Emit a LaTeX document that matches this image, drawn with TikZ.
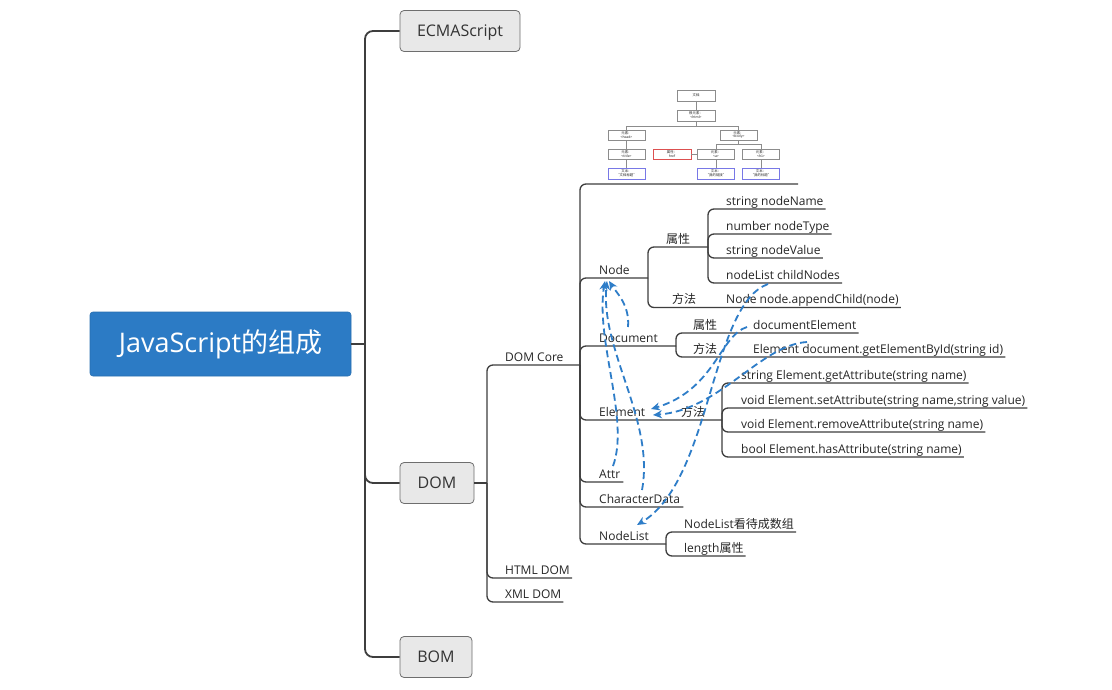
\documentclass[tikz,border=0pt]{standalone}
\usepackage{fontspec}
\setmainfont{Open Sans}
\newfontfamily\cjk{Noto Sans CJK SC}
\usetikzlibrary{arrows.meta}
\definecolor{rootblue}{RGB}{44,123,197}
\definecolor{boxfill}{RGB}{232,232,232}
\definecolor{boxdraw}{RGB}{110,110,110}
\definecolor{linec}{RGB}{62,62,62}
\definecolor{dashblue}{RGB}{46,125,200}
\definecolor{thred}{RGB}{220,80,80}
\definecolor{thblue}{RGB}{120,120,230}
\begin{document}
\begin{tikzpicture}[x=1pt,y=-1pt,
  rootbox/.style={rounded corners=3pt, fill=rootblue, draw=rootblue!90!black, line width=0.6pt, minimum width=261pt, minimum height=64pt, text=white, font=\fontsize{27}{30}\selectfont},
  topbox/.style={rounded corners=4pt, fill=boxfill, draw=boxdraw, line width=0.8pt, minimum height=41pt, text height=11.5pt, text depth=0pt, font=\fontsize{16}{19}\selectfont, text=black!80},
  trunk/.style={draw=linec, line width=1.8pt, rounded corners=8pt},
  ul/.style={draw=linec, line width=1.3pt, rounded corners=6pt},
  lbl/.style={anchor=base west, inner sep=0pt, font=\fontsize{12}{14}\selectfont, text=black!85},
  dep/.style={draw=dashblue, line width=1.8pt, dash pattern=on 7pt off 4pt, -{Stealth[length=9pt,width=8pt]}},
  tb/.style={draw=black!45, line width=0.4pt, fill=white, inner sep=0pt, minimum width=37pt, minimum height=10.5pt, font=\cjk\fontsize{3.4}{3.9}\selectfont, align=center, text=black!85},
  tl/.style={draw=black!45, line width=0.4pt}
]
\useasboundingbox (0,0) rectangle (1112,689);
\fill[white] (0,0) rectangle (1112,689);

% root and top level
\node[rootbox] (root) at (220.5,344) {JavaScript{\cjk 的组成}};
\node[topbox, minimum width=120pt] (ecma) at (460,31) {ECMAScript};
\node[topbox, minimum width=74pt] (dom) at (437,483) {DOM};
\node[topbox, minimum width=72pt] (bom) at (436,657) {BOM};
\coordinate (tj) at (365,344);
\draw[trunk] (root.east) -- (tj);
\draw[trunk] (tj) |- (ecma.west);
\draw[trunk] (tj) |- (dom.west);
\draw[trunk] (tj) |- (bom.west);

% DOM level
\coordinate (dj) at (487,483);
\draw[ul] (dom.east) -- (dj);
\node[lbl] (domcore) at (505,361) {DOM Core};
\node[lbl] (html) at (505,574) {HTML DOM};
\node[lbl] (xml) at (505,598) {XML DOM};
\coordinate (dcj) at (580,365);
\draw[ul] (dj) |- (dcj);
\draw[ul] (dj) |- ([shift={(2pt,-4pt)}]html.base east);
\draw[ul] (dj) |- ([shift={(2pt,-4pt)}]xml.base east);

% DOM Core children
\coordinate (imgend) at (798,184);
\draw[ul] (dcj) |- (imgend);
\node[lbl] (nnode) at (599,274) {Node};
\coordinate (nj) at (648,278);
\draw[ul] (dcj) |- (nj);
\node[lbl] (doc) at (599,342) {Document};
\coordinate (docj) at (676,346);
\draw[ul] (dcj) |- (docj);
\node[lbl] (elem) at (599,416) {Element};
\node[lbl] (emeth) at (681,416) {\cjk 方法};
\coordinate (elj) at (722,420);
\draw[ul] (dcj) |- (elj);
\node[lbl] (attr) at (599,478) {Attr};
\draw[ul] (dcj) |- ([shift={(3pt,-4pt)}]attr.base east);
\node[lbl] (chard) at (599,503) {CharacterData};
\draw[ul] (dcj) |- ([shift={(3pt,-4pt)}]chard.base east);
\node[lbl] (nlist) at (599,540) {NodeList};
\coordinate (nlj) at (666,544);
\draw[ul] (dcj) |- (nlj);

% Node children
\node[lbl] (nattr) at (666,243) {\cjk 属性};
\coordinate (naj) at (708,247);
\draw[ul] (nj) |- (naj);
\node[lbl] (nmeth) at (672,303.5) {\cjk 方法};
\node[lbl] (nappend) at (726,303.5) {Node node.appendChild(node)};
\draw[ul] (nj) |- ([shift={(2pt,-4pt)}]nappend.base east);
\node[lbl] (s1) at (726,205) {string nodeName};
\node[lbl] (s2) at (726,230) {number nodeType};
\node[lbl] (s3) at (726,254) {string nodeValue};
\node[lbl] (s4) at (726,279) {nodeList childNodes};
\foreach \n in {s1,s2,s3,s4}{\draw[ul] (naj) |- ([shift={(2pt,-4pt)}]\n.base east);}

% Document children
\node[lbl] (dattr) at (693,329) {\cjk 属性};
\node[lbl] (delem) at (753,329) {documentElement};
\draw[ul] (docj) |- ([shift={(2pt,-4pt)}]delem.base east);
\node[lbl] (dmeth) at (693,353) {\cjk 方法};
\node[lbl] (dget) at (753,353) {Element document.getElementById(string id)};
\draw[ul] (docj) |- ([shift={(2pt,-4pt)}]dget.base east);

% Element children
\node[lbl] (e1) at (741,379) {string Element.getAttribute(string name)};
\node[lbl] (e2) at (741,404) {void Element.setAttribute(string name,string value)};
\node[lbl] (e3) at (741,428) {void Element.removeAttribute(string name)};
\node[lbl] (e4) at (741,453) {bool Element.hasAttribute(string name)};
\foreach \n in {e1,e2,e3,e4}{\draw[ul] (elj) |- ([shift={(2pt,-4pt)}]\n.base east);}

% NodeList children
\node[lbl] (l1) at (684,528) {NodeList{\cjk 看待成数组}};
\node[lbl] (l2) at (684,552) {length{\cjk 属性}};
\foreach \n in {l1,l2}{\draw[ul] (nlj) |- ([shift={(2pt,-4pt)}]\n.base east);}

% thumbnail tree
\node[tb, minimum width=38pt] (t0) at (696,95.5) {文档};
\node[tb, minimum width=38pt] (t1) at (696,115.5) {根元素：\\<html>};
\node[tb] (t2) at (626.5,135) {元素：\\<head>};
\node[tb] (t3) at (738.5,135) {元素：\\<body>};
\node[tb] (t4) at (626.5,154) {元素：\\<title>};
\node[tb, draw=thred, minimum width=38pt] (t5) at (672,154) {属性：\\href};
\node[tb] (t6) at (716,154) {元素：\\<a>};
\node[tb] (t7) at (761,154) {元素：\\<h1>};
\node[tb, draw=thblue] (t8) at (626.5,173.5) {文本：\\“文档标题”};
\node[tb, draw=thblue] (t9) at (716,173.5) {文本：\\“我的链接”};
\node[tb, draw=thblue] (t10) at (761,173.5) {文本：\\“我的标题”};
\draw[tl] (t0) -- (t1);
\draw[tl] (t1.south) -- (696,126);
\draw[tl] (t2.north) |- (738.5,126) -- (t3.north);
\draw[tl] (t2) -- (t4);
\draw[tl] (t4) -- (t8);
\draw[tl] (t3.south) -- (738.5,144.5);
\draw[tl] (t6.north) |- (761,144.5) -- (t7.north);
\draw[tl] (t5) -- (t6);
\draw[tl] (t6) -- (t9);
\draw[tl] (t7) -- (t10);

% dashed dependency arrows
\coordinate (docS) at (628,327);
\coordinate (attrS) at (613,466);
\coordinate (chS) at (642,490);
\coordinate (nodeT1) at (609,281);
\coordinate (nodeT2) at (605,281);
\coordinate (nodeT3) at (607,281);
\draw[dep] (docS) .. controls (630,305) and (616,292) .. (nodeT1);
\draw[dep] (attrS) .. controls (630,420) and (595,340) .. (nodeT2);
\draw[dep] (chS) .. controls (655,420) and (600,350) .. (nodeT3);
\coordinate (deS) at (747,327);
\coordinate (geS) at (807,342);
\coordinate (elT1) at (651,409);
\coordinate (elT2) at (653,415);
\draw[dep] (deS) .. controls (720,335) and (715,390) .. (elT1);
\draw[dep] (geS) .. controls (760,345) and (720,410) .. (elT2);
\coordinate (cnS) at (768,284);
\coordinate (nlT) at (637,525);
\draw[dep] (cnS) .. controls (710,305) and (712,480) .. (nlT);
\end{tikzpicture}
\end{document}
